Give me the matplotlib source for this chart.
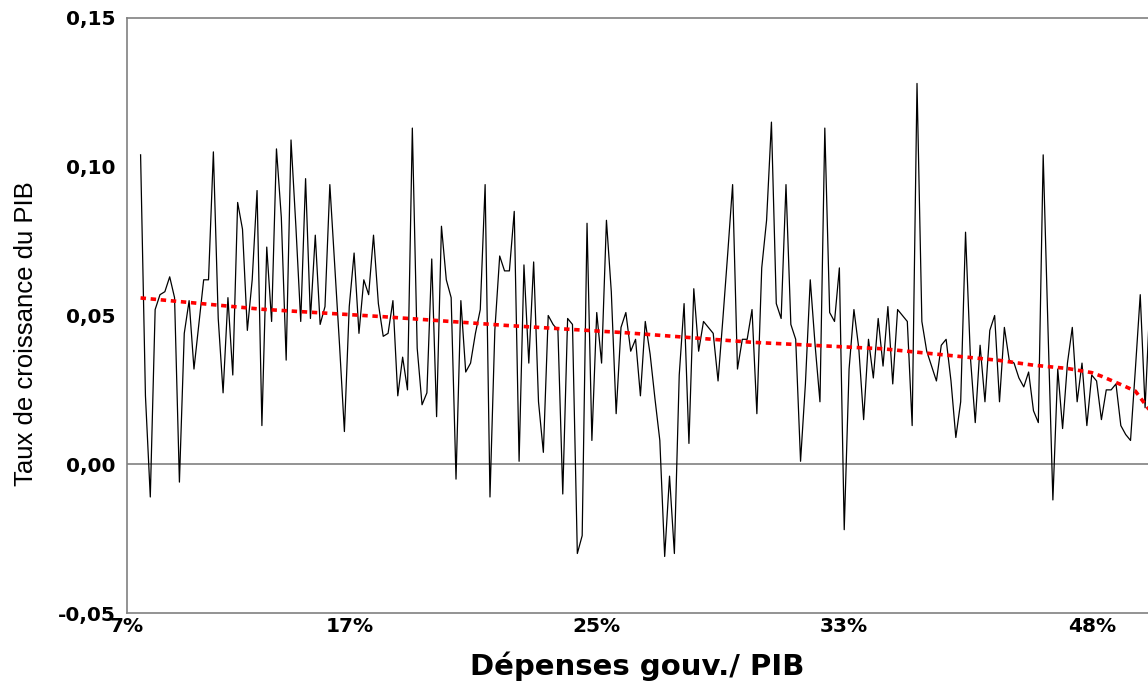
import numpy as np
from matplotlib import pyplot as plt

# growth rate of GDP, countries sorted by government spending / GDP
growth = [
    0.104, 0.023, -0.011, 0.052, 0.057, 0.058, 0.063, 0.056, -0.006, 0.044,
    0.055, 0.032, 0.047, 0.062, 0.062, 0.105, 0.049, 0.024, 0.056, 0.030,
    0.088, 0.079, 0.045, 0.062, 0.092, 0.013, 0.073, 0.048, 0.106, 0.083,
    0.035, 0.109, 0.080, 0.048, 0.096, 0.049, 0.077, 0.047, 0.053, 0.094,
    0.067, 0.040, 0.011, 0.053, 0.071, 0.044, 0.062, 0.057, 0.077, 0.054,
    0.043, 0.044, 0.055, 0.023, 0.036, 0.025, 0.113, 0.039, 0.020, 0.024,
    0.069, 0.016, 0.080, 0.062, 0.056, -0.005, 0.055, 0.031, 0.034, 0.044,
    0.052, 0.094, -0.011, 0.045, 0.070, 0.065, 0.065, 0.085, 0.001, 0.067,
    0.034, 0.068, 0.021, 0.004, 0.050, 0.047, 0.045, -0.010, 0.049, 0.047,
    -0.030, -0.024, 0.081, 0.008, 0.051, 0.034, 0.082, 0.058, 0.017, 0.046,
    0.051, 0.038, 0.042, 0.023, 0.048, 0.037, 0.022, 0.008, -0.031, -0.004,
    -0.030, 0.030, 0.054, 0.007, 0.059, 0.038, 0.048, 0.046, 0.044, 0.028,
    0.049, 0.071, 0.094, 0.032, 0.042, 0.042, 0.052, 0.017, 0.066, 0.082,
    0.115, 0.054, 0.049, 0.094, 0.047, 0.042, 0.001, 0.027, 0.062, 0.040,
    0.021, 0.113, 0.051, 0.048, 0.066, -0.022, 0.032, 0.052, 0.039, 0.015,
    0.042, 0.029, 0.049, 0.033, 0.053, 0.027, 0.052, 0.050, 0.048, 0.013,
    0.128, 0.048, 0.038, 0.033, 0.028, 0.040, 0.042, 0.028, 0.009, 0.021,
    0.078, 0.036, 0.014, 0.040, 0.021, 0.045, 0.050, 0.021, 0.046, 0.035,
    0.034, 0.029, 0.026, 0.031, 0.018, 0.014, 0.104, 0.045, -0.012, 0.032,
    0.012, 0.034, 0.046, 0.021, 0.034, 0.013, 0.030, 0.028, 0.015, 0.025,
    0.025, 0.027, 0.013, 0.010, 0.008, 0.032, 0.057, 0.019, 0.055,
]

# fitted trend (red dotted), read at a few observation ranks
trend_rank = [0, 25, 50, 75, 100, 126, 153, 177, 184, 191, 196, 198, 202, 205, 208]
trend_val = [0.0559, 0.0521, 0.0496, 0.0467, 0.0442, 0.0410, 0.0388, 0.0349,
             0.0333, 0.0322, 0.0308, 0.0296, 0.0268, 0.0246, 0.0180]

tick_rank = [-2.8, 43, 94, 145, 196]
tick_labels = ['7%', '17%', '25%', '33%', '48%']
ytick_vals = [-0.05, 0.0, 0.05, 0.10, 0.15]

fig = plt.figure(figsize=(11.48, 6.85), dpi=100)
ax = fig.add_axes([127 / 1148, 1 - 613 / 685, 1 - 127 / 1148, (613 - 18) / 685])

rank = np.arange(len(growth))
ax.axhline(0, color='#808080', lw=1.2, zorder=1)
ax.plot(rank, growth, color='black', lw=0.9, zorder=2)
ax.plot(trend_rank, trend_val, color='red', lw=2.6, ls=(0, (1.5, 1.3)), zorder=3)

ax.set_xlim(-2.8, 207.6)
ax.set_ylim(-0.05, 0.15)

ax.set_xticks(tick_rank)
ax.set_xticklabels(tick_labels)
ax.set_yticks(ytick_vals)
ax.set_yticklabels([('%.2f' % v).replace('.', ',') for v in ytick_vals])
ax.tick_params(length=0)
ax.tick_params(axis='y', pad=8)
ax.tick_params(axis='x', pad=3)
for lab in ax.get_xticklabels() + ax.get_yticklabels():
    lab.set_fontfamily('DejaVu Sans')
    lab.set_fontweight('bold')
    lab.set_fontsize(14.5)

for s in ['left', 'bottom', 'top']:
    ax.spines[s].set_color('#808080')
    ax.spines[s].set_linewidth(1.2)
ax.spines['right'].set_visible(False)

ax.set_xlabel('Dépenses gouv./ PIB', fontsize=21, fontweight='bold',
              family='DejaVu Sans', labelpad=11)
ax.set_ylabel('Taux de croissance du PIB', fontsize=18.5,
              family=['Liberation Sans Narrow', 'Liberation Sans'])
ax.yaxis.set_label_coords(-0.087, 0.47)

fig.savefig('out.png', dpi=100)
